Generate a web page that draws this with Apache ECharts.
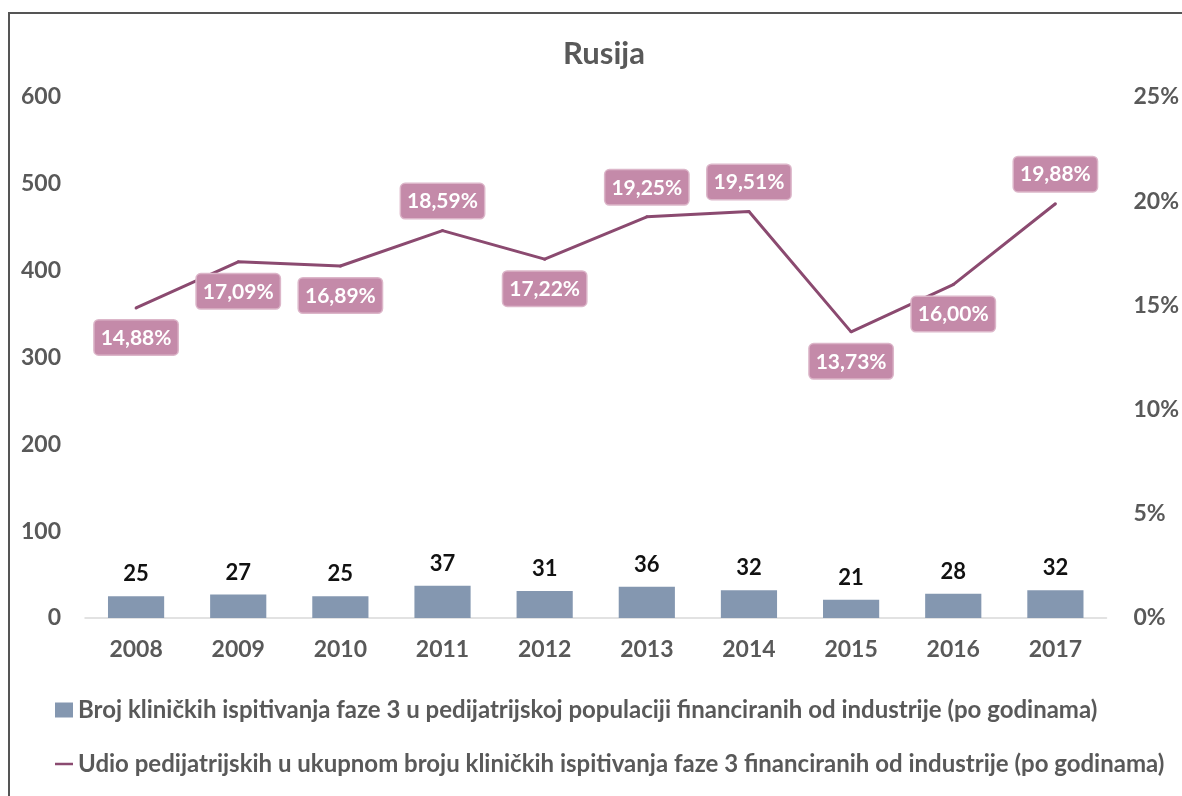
<!DOCTYPE html>
<html>
<head>
<meta charset="utf-8">
<script src="https://cdn.jsdelivr.net/npm/echarts@6/dist/echarts.min.js"></script>
<style>
html,body{margin:0;padding:0;background:#fff;}
#chart{width:1182px;height:796px;}
</style>
</head>
<body>
<div id="chart"></div>
<script>
var years=['2008','2009','2010','2011','2012','2013','2014','2015','2016','2017'];
var trials=[25,27,25,37,31,36,32,21,28,32];
var share=[14.88,17.09,16.89,18.59,17.22,19.25,19.51,13.73,16.00,19.88];
var leftTicks=[0,100,200,300,400,500,600];
var rightTicks=[0,5,10,15,20,25];
var barName='Broj kliničkih ispitivanja faze 3 u pedijatrijskoj populaciji financiranih od industrije (po godinama)';
var lineName='Udio pedijatrijskih u ukupnom broju kliničkih ispitivanja faze 3 financiranih od industrije (po godinama)';
// where excel put each percent label
var labelSide=['bottom','bottom','bottom','top','bottom','top','top','bottom','bottom','top'];

var font='Lato';
var grey='#595959';
var lineColor='#8b4a70';

var lineData=share.map(function(v,i){
    return {
        value:v,
        label:{position:labelSide[i]}
    };
});

var myChart=echarts.init(document.getElementById('chart'));
myChart.setOption({
    textStyle:{fontFamily:font},
    graphic:[{
        type:'rect',
        shape:{x:9,y:13,width:1200,height:820},
        style:{fill:'none',stroke:'#555',lineWidth:2},
        silent:true
    }],
    title:{
        text:'Rusija',
        left:558,
        top:33,
        textStyle:{fontFamily:font,fontSize:31,fontWeight:'bold',color:grey}
    },
    legend:{
        orient:'vertical',
        left:50,
        top:693,
        itemGap:30,
        itemWidth:18,
        itemHeight:15,
        textStyle:{fontFamily:font,fontSize:24,fontWeight:'bold',color:grey},
        data:[
            {name:barName,icon:'rect',itemStyle:{color:'#8497b0'}},
            {name:lineName,icon:'path://M0,6.5L18,6.5L18,9L0,9Z',itemStyle:{color:lineColor,opacity:1}}
        ]
    },
    grid:{left:85,right:71,top:97,bottom:178},
    xAxis:{
        type:'category',
        data:years,
        axisLine:{lineStyle:{color:'#d9d9d9',width:1.5}},
        axisTick:{show:false},
        axisLabel:{fontFamily:font,fontSize:23,fontWeight:'bold',color:grey,margin:20}
    },
    yAxis:[{
        type:'value',
        min:leftTicks[0],
        max:leftTicks[leftTicks.length-1],
        interval:100,
        splitLine:{show:false},
        axisLine:{show:false},
        axisLabel:{fontFamily:font,fontSize:23,fontWeight:'bold',color:grey,margin:24,align:'right'}
    },{
        type:'value',
        min:rightTicks[0],
        max:rightTicks[rightTicks.length-1],
        interval:5,
        splitLine:{show:false},
        axisLine:{show:false},
        axisLabel:{fontFamily:font,fontSize:23,fontWeight:'bold',color:grey,margin:27,
            formatter:function(v){return v+'%';}}
    }],
    series:[{
        name:barName,
        type:'bar',
        data:trials,
        barWidth:'55%',
        itemStyle:{color:'#8497b0'},
        label:{show:true,position:'top',distance:11,fontFamily:font,fontSize:22,fontWeight:'bold',color:'#111'}
    },{
        name:lineName,
        type:'line',
        yAxisIndex:1,
        data:lineData,
        symbol:'circle',
        symbolSize:3,
        showSymbol:true,
        lineStyle:{color:lineColor,width:3},
        itemStyle:{color:lineColor},
        label:{
            show:true,
            distance:11,
            formatter:function(p){return p.value.toFixed(2).replace('.',',')+'%';},
            fontFamily:font,fontSize:21,fontWeight:'bold',color:'#fff',
            backgroundColor:'#c48aa9',
            borderColor:'#dcb6c9',
            borderWidth:1.5,
            borderRadius:4,
            padding:[7,6,6,6]
        }
    }]
});
</script>
</body>
</html>
